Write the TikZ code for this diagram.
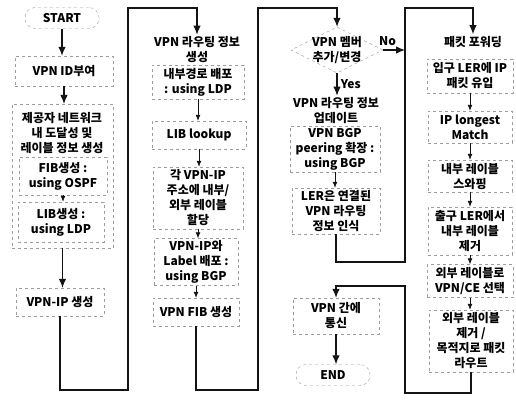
\documentclass[tikz,border=0pt]{standalone}
\usepackage{fontspec}
\setmainfont{Noto Sans CJK KR}
\usetikzlibrary{arrows.meta,positioning,fit,backgrounds,shapes.geometric}
\definecolor{ink}{HTML}{141414}
\definecolor{muted}{HTML}{9C9C9C}

\begin{document}
\begin{tikzpicture}[
  x=1pt, y=-1pt,
  font=\fontsize{12}{15}\selectfont\bfseries,
  stepbox/.style={draw=muted, dashed, align=center, inner sep=2pt},
  termbox/.style={draw=muted, dashed, rounded corners=10pt,
    minimum width=74pt, minimum height=21pt},
  groupbox/.style={draw=muted, dashed, inner sep=6pt},
  decision/.style={draw=muted, dashed, diamond, minimum width=92pt,
    minimum height=46pt, inner sep=0pt},
  title/.style={align=center, inner sep=2pt},
  flowline/.style={-{Latex[length=9pt, width=7.5pt]}, draw=ink, line width=1.1pt},
  subline/.style={-{Latex[length=6pt, width=5pt]}, draw=ink, line width=0.8pt},
]
  \useasboundingbox (0,0) rectangle (516,400);

  % column 1: provider network
  \node[termbox] (start) at (62,18) {START};
  \node[stepbox, minimum width=98pt, minimum height=30pt] (vpnid) at (64,71) {VPN ID부여};
  \node[title] (reach) at (62,133) {제공자 네트워크\\내 도달성 및\\레이블 정보 생성};
  \node[stepbox, minimum width=88pt, minimum height=38pt] (fib) at (63,176) {FIB생성 :\\using OSPF};
  \node[stepbox, minimum width=86pt, minimum height=40pt] (lib) at (61,222) {LIB생성 :\\using LDP};
  \begin{scope}[on background layer]
    \node[groupbox, fit=(reach)(fib)(lib)] (reachgrp) {};
  \end{scope}
  \node[stepbox, minimum width=88pt, minimum height=28pt] (vpnip) at (60,302) {VPN-IP 생성};

  % column 2: VPN routing info
  \node[title] (rtitle) at (197,50) {VPN 라우팅 정보\\생성};
  \node[stepbox, minimum width=92pt, minimum height=34pt] (igp) at (198,82) {내부경로 배포\\: using LDP};
  \node[stepbox, minimum width=94pt, minimum height=28pt] (lookup) at (199,135) {LIB lookup};
  \node[stepbox, minimum width=90pt, minimum height=62pt] (assign) at (198,198) {각 VPN-IP\\주소에 내부/\\외부 레이블\\할당};
  \node[stepbox, minimum width=84pt, minimum height=46pt] (bgpdist) at (196,262) {VPN-IP와\\Label 배포 :\\using BGP};
  \node[stepbox, minimum width=86pt, minimum height=28pt] (vfib) at (196,312) {VPN FIB 생성};

  % column 3: membership
  \node[decision] (member) at (337,50) {};
  \node[title] (membertxt) at (member.center) {VPN 멤버\\추가/변경};
  \node[title] (utitle) at (336,111) {VPN 라우팅 정보\\업데이트};
  \node[stepbox, minimum width=90pt, minimum height=46pt] (peer) at (335,149) {VPN BGP\\peering 확장 :\\using BGP};
  \node[stepbox, minimum width=88pt, minimum height=46pt] (ler) at (336,211) {LER은 연결된\\VPN 라우팅\\정보 인식};
  \node[stepbox, minimum width=86pt, minimum height=36pt] (comm) at (336,316) {VPN 간에\\통신};
  \node[termbox] (finish) at (333,375) {END};

  % column 4: packet forwarding
  \node[title] (ftitle) at (473,42) {패킷 포워딩};
  \node[stepbox, minimum width=86pt, minimum height=34pt] (ingress) at (470,76) {입구 LER에 IP\\패킷 유입};
  \node[stepbox, minimum width=84pt, minimum height=32pt] (longest) at (470,127) {IP longest\\Match};
  \node[stepbox, minimum width=84pt, minimum height=32pt] (swap) at (470,176) {내부 레이블\\스와핑};
  \node[stepbox, minimum width=84pt, minimum height=48pt] (egress) at (470,231) {출구 LER에서\\내부 레이블\\제거};
  \node[stepbox, minimum width=86pt, minimum height=33pt] (outlbl) at (470,281) {외부 레이블로\\VPN/CE 선택};
  \node[stepbox, minimum width=84pt, minimum height=62pt] (dest) at (471,341) {외부 레이블\\제거 /\\목적지로 패킷\\라우트};

  % turning points of the long connectors
  \coordinate (c1low) at (128,390);
  \coordinate (c1top) at (128,8);
  \coordinate (c2low) at (258,390);
  \coordinate (c2top) at (258,8);
  \coordinate (c3low) at (405,262);
  \coordinate (c3top) at (405,8);
  \coordinate (c4low) at (405,393);
  \coordinate (c4mid) at (405,286);

  \draw[flowline] (start.south) -- (start.south |- vpnid.north);
  \draw[flowline] (vpnid.south) -- (vpnid.south |- reachgrp.north);
  \draw[subline] (fib.south) -- (fib.south |- lib.north);
  \draw[flowline] (reachgrp.south) -- (reachgrp.south |- vpnip.north);
  \draw[flowline] (vpnip.south) |- (c1low) -- (c1top) -| (rtitle.north);

  \foreach \a/\b in {igp/lookup,lookup/assign,assign/bgpdist,bgpdist/vfib}
    \draw[subline] (\a.south) -- (\a.south |- \b.north);
  \draw[flowline] (vfib.south) |- (c2low) -- (c2top) -| (member.north);

  \draw[flowline] (member.south) -- (member.south |- utitle.north)
    node[midway, right] {Yes};
  \draw[flowline] (member.east) -- (member.east -| c3top)
    node[pos=0.2, above] {No};
  \draw[subline] (peer.south) -- (peer.south |- ler.north);
  \draw[flowline] (ler.south) |- (c3low) -- (c3top) -| (ftitle.north);

  \foreach \a/\b in {ingress/longest,longest/swap,swap/egress,egress/outlbl,outlbl/dest}
    \draw[subline] (\a.south) -- (\a.south |- \b.north);
  \draw[flowline] (dest.south) |- (c4low) -- (c4mid) -| (comm.north);
  \draw[flowline] (comm.south) -- (comm.south |- finish.north);
\end{tikzpicture}
\end{document}
